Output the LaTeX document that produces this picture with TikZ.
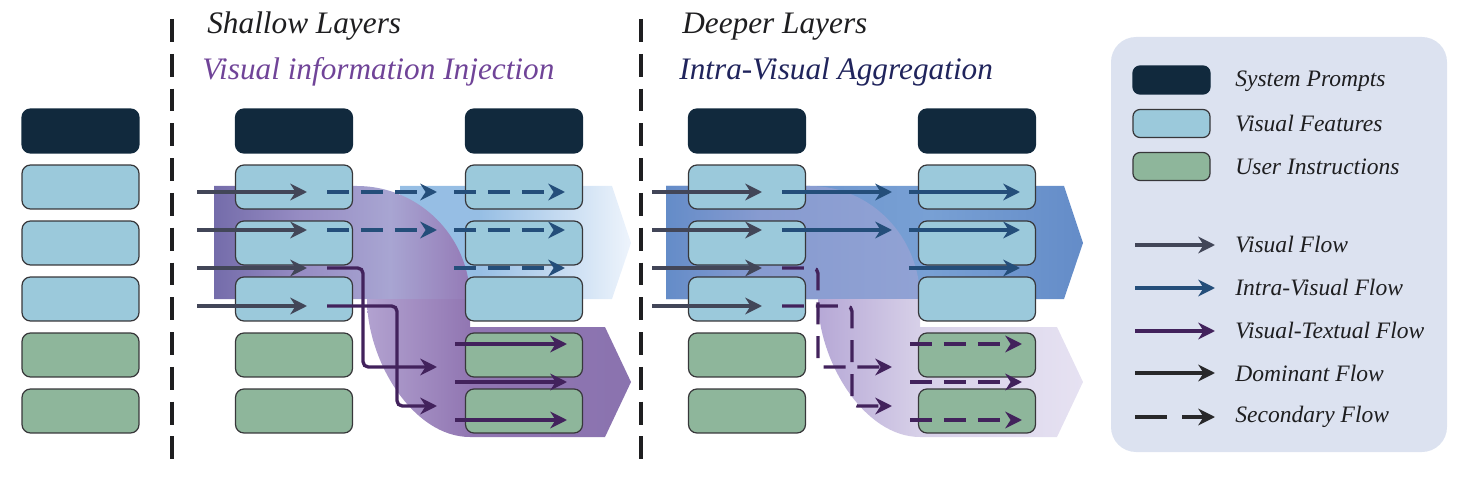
\documentclass[tikz,border=0pt]{standalone}
\usepackage{fontspec}
\setmainfont{Liberation Serif}
\usetikzlibrary{arrows.meta}

\definecolor{sysc}{RGB}{17,41,61}
\definecolor{visc}{RGB}{155,201,219}
\definecolor{insc}{RGB}{142,182,155}
\definecolor{boxline}{RGB}{55,55,58}
\definecolor{vflowc}{RGB}{66,70,88}
\definecolor{ivflowc}{RGB}{36,78,122}
\definecolor{vtflowc}{RGB}{66,34,92}
\definecolor{domc}{RGB}{40,40,42}
\definecolor{txtc}{RGB}{30,30,32}
\definecolor{legbg}{RGB}{220,226,240}
\definecolor{injc}{RGB}{112,68,152}
\definecolor{aggc}{RGB}{32,36,92}
% shading colours
\definecolor{injA}{RGB}{116,108,170}
\definecolor{injB}{RGB}{150,140,195}
\definecolor{injC}{RGB}{168,165,210}
\definecolor{injD}{RGB}{148,122,182}
\definecolor{injE}{RGB}{178,162,208}
\definecolor{injF}{RGB}{145,118,178}
\definecolor{injG}{RGB}{138,115,175}
\definecolor{bandA}{RGB}{150,190,228}
\definecolor{bandB}{RGB}{238,244,252}
\definecolor{aggA}{RGB}{100,140,200}
\definecolor{aggB}{RGB}{120,160,212}
\definecolor{aggC}{RGB}{135,155,208}
\definecolor{aggD}{RGB}{145,162,212}
\definecolor{aggE}{RGB}{182,168,214}
\definecolor{aggF}{RGB}{215,208,232}
\definecolor{aggG}{RGB}{230,226,242}

\pgfdeclarehorizontalshading{injband}{100bp}{color(0bp)=(bandA); color(25bp)=(bandA); color(42bp)=(bandA); color(75bp)=(bandB); color(100bp)=(bandB)}
\pgfdeclarehorizontalshading{injupper}{100bp}{color(0bp)=(injA); color(25bp)=(injA); color(41.8bp)=(injB); color(59.4bp)=(injC); color(75bp)=(injD); color(100bp)=(injD)}
\pgfdeclarehorizontalshading{injlower}{100bp}{color(0bp)=(injE); color(25bp)=(injE); color(44.5bp)=(injF); color(75bp)=(injG); color(100bp)=(injG)}
\pgfdeclarehorizontalshading{aggband}{100bp}{color(0bp)=(aggA); color(25bp)=(aggA); color(56.6bp)=(aggB); color(75bp)=(aggA); color(100bp)=(aggA)}
\pgfdeclarehorizontalshading{aggupper}{100bp}{color(0bp)=(aggA); color(25bp)=(aggA); color(43.5bp)=(aggC); color(75bp)=(aggD); color(100bp)=(aggD)}
\pgfdeclarehorizontalshading{agglower}{100bp}{color(0bp)=(aggE); color(25bp)=(aggE); color(44.2bp)=(aggF); color(75bp)=(aggG); color(100bp)=(aggG)}

\tikzset{
  tok/.style={draw=boxline,line width=0.7pt,rounded corners=0.17cm,
    minimum width=2.34cm,minimum height=0.88cm,inner sep=0pt},
  sysbox/.style={tok,fill=sysc,draw=sysc},
  visbox/.style={tok,fill=visc},
  insbox/.style={tok,fill=insc},
  legbox/.style={tok,rounded corners=0.14cm,minimum width=1.54cm,minimum height=0.56cm},
  flow/.style={line width=1.9pt,-{Stealth[length=9.5pt,width=9.5pt,inset=3pt]}},
  visflow/.style={flow,draw=vflowc},
  ivflow/.style={flow,draw=ivflowc},
  vtflow/.style={flow,draw=vtflowc,rounded corners=3pt},
  secondary/.style={dash pattern=on 12.5pt off 6.8pt},
  sepline/.style={draw=txtc,line width=2.2pt,dash pattern=on 13pt off 6.8pt},
  title/.style={anchor=base west,inner sep=0pt,text=txtc,
    font=\fontsize{17.8}{21}\selectfont\itshape},
  legtext/.style={anchor=west,inner sep=0pt,text=txtc,
    font=\fontsize{13.4}{16}\selectfont\itshape}
}

\begin{document}
\begin{tikzpicture}[x=0.02cm,y=-0.02cm]
  \useasboundingbox (0,0) rectangle (1482,483);
  \fill[legbg,rounded corners=0.5cm] (1111,37) rectangle (1447,452);

  % shallow layers: injection
  \shade[shading=injband] (400,186) -- (612,186) -- (631,243) -- (612,299) -- (400,299) -- cycle;
  \shade[shading=injupper] (214,186) -- (357,186) .. controls (419,186) and (470,237) .. (470,299) -- (214,299) -- cycle;
  \shade[shading=injlower] (367,299) -- (470,299) -- (470,327) -- (605,327) -- (631,382) -- (605,437)
    -- (470,437) .. controls (413,437) and (367,361) .. (367,299) -- cycle;
  % deeper layers: aggregation
  \shade[shading=aggband] (666,186) -- (1064,186) -- (1083,243) -- (1064,299) -- (666,299) -- cycle;
  \shade[shading=aggupper] (666,186) -- (810,186) .. controls (871,186) and (920,237) .. (920,299) -- (666,299) -- cycle;
  \shade[shading=agglower] (818,299) -- (920,299) -- (920,327) -- (1057,327) -- (1083,382) -- (1057,437)
    -- (920,437) .. controls (864,437) and (818,361) .. (818,299) -- cycle;

  \draw[sepline] (172,19) -- (172,465);
  \draw[sepline] (641,19) -- (641,465);

  % token columns
  \foreach \c/\x in {0/80.5,1/294,2/524,3/747,4/977}{
    \node[sysbox] (c\c r0) at (\x,131) {};
    \foreach \r in {1,2,3} \node[visbox] (c\c r\r) at (\x,{131+56*\r}) {};
    \foreach \r in {4,5} \node[insbox] (c\c r\r) at (\x,{131+56*\r}) {};
  }

  % flow ports
  \foreach \s/\o in {S/0,D/455}{
    \foreach \i/\y in {1/192,2/230,3/268,4/306}{
      \coordinate (\s-a\i) at (197+\o,\y);
      \coordinate (\s-b\i) at (307+\o,\y);
      \coordinate (\s-c\i) at (327+\o,\y);
      \coordinate (\s-d\i) at (437+\o,\y);
      \coordinate (\s-e\i) at (454+\o,\y);
      \coordinate (\s-f\i) at (565+\o,\y);
    }
    \foreach \j/\y in {1/344,2/382,3/420}{
      \coordinate (\s-g\j) at (455+\o,\y);
      \coordinate (\s-h\j) at (567+\o,\y);
    }
    \coordinate (\s-k1) at (363+\o,367); \coordinate (\s-t1) at (437+\o,367);
    \coordinate (\s-k2) at (397+\o,406); \coordinate (\s-t2) at (437+\o,406);
  }

  \foreach \s in {S,D}{\foreach \i in {1,...,4} \draw[visflow] (\s-a\i) -- (\s-b\i);}
  % shallow
  \foreach \i in {1,2} \draw[ivflow,secondary] (S-c\i) -- (S-d\i);
  \foreach \i in {1,2,3} \draw[ivflow,secondary] (S-e\i) -- (S-f\i);
  \draw[vtflow] (S-c3) -| (S-k1) -- (S-t1);
  \draw[vtflow] (S-c4) -| (S-k2) -- (S-t2);
  \foreach \j in {1,2,3} \draw[vtflow] (S-g\j) -- (S-h\j);
  % deeper
  \foreach \i in {1,2} \draw[ivflow] (D-c\i) -- (D-d\i);
  \foreach \i in {1,2,3} \draw[ivflow] (D-e\i) -- (D-f\i);
  \draw[vtflow,secondary] (D-c3) -| (D-k1) -- (D-t1);
  \draw[vtflow,secondary] (D-c4) -| (D-k2) -- (D-t2);
  \foreach \j in {1,2,3} \draw[vtflow,secondary] (D-g\j) -- (D-h\j);

  \node[title] (shl) at (207,34) {Shallow Layers};
  \node[title,text=injc] (inj) at (202,80) {Visual information Injection};
  \node[title] (dpl) at (682,34) {Deeper Layers};
  \node[title,text=aggc] (agg) at (679,80) {Intra-Visual Aggregation};

  % legend
  \node[legbox,fill=sysc,draw=sysc] (lg1) at (1171.5,80) {};
  \node[legbox,fill=visc] (lg2) at (1171.5,123.5) {};
  \node[legbox,fill=insc] (lg3) at (1171.5,166.5) {};
  \node[legtext] (ln1) at (1235,81) {System Prompts};
  \node[legtext] (ln2) at (1235,124) {Visual Features};
  \node[legtext] (ln3) at (1235,167) {User Instructions};
  \foreach \i/\y in {4/245,5/288,6/331,7/373,8/417}{
    \coordinate (lfa\i) at (1135,\y);
    \coordinate (lfb\i) at (1215,\y);
  }
  \draw[visflow] (lfa4) -- (lfb4);
  \draw[ivflow] (lfa5) -- (lfb5);
  \draw[vtflow] (lfa6) -- (lfb6);
  \draw[flow,draw=domc] (lfa7) -- (lfb7);
  \draw[flow,draw=domc,dash pattern=on 18pt off 9pt] (lfa8) -- (lfb8);
  \node[legtext] (ln4) at (1235,245) {Visual Flow};
  \node[legtext] (ln5) at (1235,288) {Intra-Visual Flow};
  \node[legtext] (ln6) at (1235,331) {Visual-Textual Flow};
  \node[legtext] (ln7) at (1235,373) {Dominant Flow};
  \node[legtext] (ln8) at (1235,417) {Secondary Flow};
\end{tikzpicture}
\end{document}
